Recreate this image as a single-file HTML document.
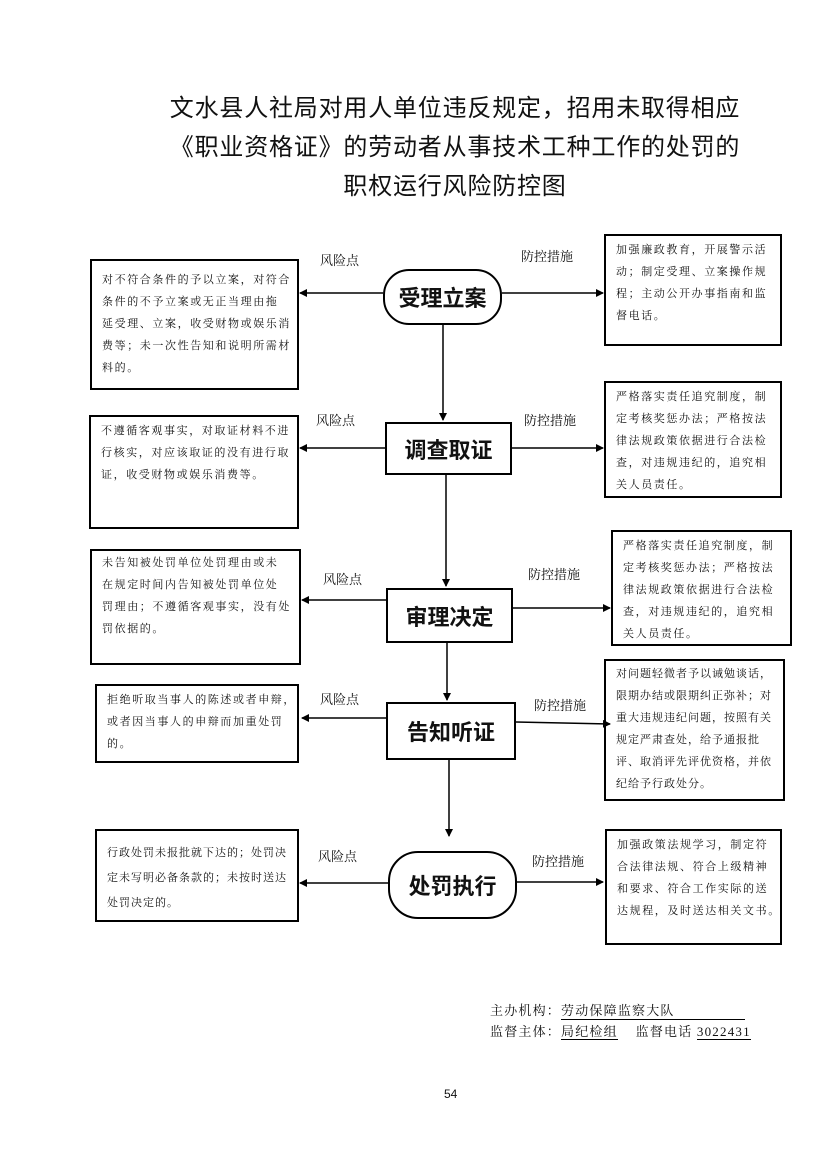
<!DOCTYPE html>
<html><head><meta charset="utf-8"><style>
body{margin:0;background:#fff;}
#p{position:relative;width:827px;height:1169px;overflow:hidden;font-family:"Liberation Serif","Noto Serif CJK SC",serif;color:#111;}
.t{position:absolute;left:0;width:910px;text-align:center;font-family:"Liberation Sans","Noto Sans CJK SC",sans-serif;font-size:24px;letter-spacing:0.8px;}
.b{position:absolute;border:2px solid #000;box-sizing:border-box;font-size:11px;line-height:22px;padding:5px 2px 0 10px;letter-spacing:1.6px;white-space:nowrap;}
.n{position:absolute;border:2px solid #000;box-sizing:border-box;font-family:"Liberation Sans","Noto Sans CJK SC",sans-serif;font-size:22px;font-weight:bold;display:flex;align-items:center;justify-content:center;background:#fff;}
.l{position:absolute;font-size:13px;}
.f{position:absolute;font-size:13px;letter-spacing:1.2px;}
u{text-decoration:none;border-bottom:1px solid #000;}
</style></head><body><div id="p">
<div class="t" style="top:88px">文水县人社局对用人单位违反规定，招用未取得相应</div>
<div class="t" style="top:127px">《职业资格证》的劳动者从事技术工种工作的处罚的</div>
<div class="t" style="top:166px">职权运行风险防控图</div>

<svg width="827" height="1169" style="position:absolute;left:0;top:0">
<defs><marker id="a" markerWidth="8" markerHeight="8" refX="7" refY="4" orient="auto" markerUnits="userSpaceOnUse"><path d="M0,0 L8,4 L0,8z" fill="#000"/></marker></defs>
<g stroke="#000" stroke-width="1.5" fill="none">
<line x1="443" y1="325" x2="443" y2="420" marker-end="url(#a)"/>
<line x1="446" y1="475" x2="446" y2="586" marker-end="url(#a)"/>
<line x1="447" y1="643" x2="447" y2="700" marker-end="url(#a)"/>
<line x1="449" y1="760" x2="449" y2="836" marker-end="url(#a)"/>
<line x1="383" y1="293" x2="300" y2="293" marker-end="url(#a)"/>
<line x1="502" y1="293" x2="603" y2="293" marker-end="url(#a)"/>
<line x1="385" y1="448" x2="300" y2="448" marker-end="url(#a)"/>
<line x1="512" y1="448" x2="603" y2="448" marker-end="url(#a)"/>
<line x1="386" y1="600" x2="302" y2="600" marker-end="url(#a)"/>
<line x1="513" y1="608" x2="610" y2="608" marker-end="url(#a)"/>
<line x1="386" y1="718" x2="302" y2="718" marker-end="url(#a)"/>
<line x1="516" y1="722" x2="610" y2="724" marker-end="url(#a)"/>
<line x1="388" y1="883" x2="300" y2="883" marker-end="url(#a)"/>
<line x1="517" y1="882" x2="603" y2="882" marker-end="url(#a)"/>
</g></svg>

<div class="n" style="left:383px;top:269px;width:119px;height:56px;border-radius:26px">受理立案</div>
<div class="n" style="left:385px;top:422px;width:127px;height:53px">调查取证</div>
<div class="n" style="left:386px;top:588px;width:127px;height:55px">审理决定</div>
<div class="n" style="left:386px;top:702px;width:130px;height:58px">告知听证</div>
<div class="n" style="left:388px;top:851px;width:129px;height:68px;border-radius:30px">处罚执行</div>

<div class="l" style="left:320px;top:250px">风险点</div><div class="l" style="left:521px;top:246px">防控措施</div>
<div class="l" style="left:316px;top:410px">风险点</div><div class="l" style="left:524px;top:410px">防控措施</div>
<div class="l" style="left:323px;top:569px">风险点</div><div class="l" style="left:528px;top:564px">防控措施</div>
<div class="l" style="left:320px;top:689px">风险点</div><div class="l" style="left:534px;top:695px">防控措施</div>
<div class="l" style="left:318px;top:846px">风险点</div><div class="l" style="left:532px;top:851px">防控措施</div>

<div class="b" style="left:90px;top:259px;width:209px;height:131px;padding-top:8px">对不符合条件的予以立案，对符合<br>条件的不予立案或无正当理由拖<br>延受理、立案，收受财物或娱乐消<br>费等；未一次性告知和说明所需材<br>料的。</div>
<div class="b" style="left:604px;top:234px;width:178px;height:112px;padding-top:3px">加强廉政教育，开展警示活<br>动；制定受理、立案操作规<br>程；主动公开办事指南和监<br>督电话。</div>
<div class="b" style="left:89px;top:415px;width:210px;height:114px;padding-top:3px">不遵循客观事实，对取证材料不进<br>行核实，对应该取证的没有进行取<br>证，收受财物或娱乐消费等。</div>
<div class="b" style="left:604px;top:381px;width:178px;height:117px;padding-top:3px">严格落实责任追究制度，制<br>定考核奖惩办法；严格按法<br>律法规政策依据进行合法检<br>查，对违规违纪的，追究相<br>关人员责任。</div>
<div class="b" style="left:90px;top:549px;width:211px;height:116px;padding-top:1px">未告知被处罚单位处罚理由或未<br>在规定时间内告知被处罚单位处<br>罚理由；不遵循客观事实，没有处<br>罚依据的。</div>
<div class="b" style="left:611px;top:530px;width:181px;height:116px;padding-top:3px">严格落实责任追究制度，制<br>定考核奖惩办法；严格按法<br>律法规政策依据进行合法检<br>查，对违规违纪的，追究相<br>关人员责任。</div>
<div class="b" style="left:95px;top:684px;width:204px;height:79px;padding-top:3px">拒绝听取当事人的陈述或者申辩，<br>或者因当事人的申辩而加重处罚<br>的。</div>
<div class="b" style="left:604px;top:659px;width:181px;height:142px;padding-top:2px;letter-spacing:1px">对问题轻微者予以诫勉谈话，<br>限期办结或限期纠正弥补；对<br>重大违规违纪问题，按照有关<br>规定严肃查处，给予通报批<br>评、取消评先评优资格，并依<br>纪给予行政处分。</div>
<div class="b" style="left:95px;top:829px;width:204px;height:93px;padding-top:10px;line-height:25px;letter-spacing:1px">行政处罚未报批就下达的；处罚决<br>定未写明必备条款的；未按时送达<br>处罚决定的。</div>
<div class="b" style="left:605px;top:829px;width:177px;height:116px;padding-top:3px">加强政策法规学习，制定符<br>合法律法规、符合上级精神<br>和要求、符合工作实际的送<br>达规程，及时送达相关文书。</div>

<div class="f" style="left:490px;top:1000px">主办机构：<u style="display:inline-block;width:184px">劳动保障监察大队</u></div>
<div class="f" style="left:490px;top:1021px">监督主体：<u>局纪检组</u>&nbsp;&nbsp;&nbsp; 监督电话 <u>3022431</u></div>
<div style="position:absolute;left:444px;top:1087px;font-size:12px;font-family:'Liberation Sans',sans-serif">54</div>
</div></body></html>
